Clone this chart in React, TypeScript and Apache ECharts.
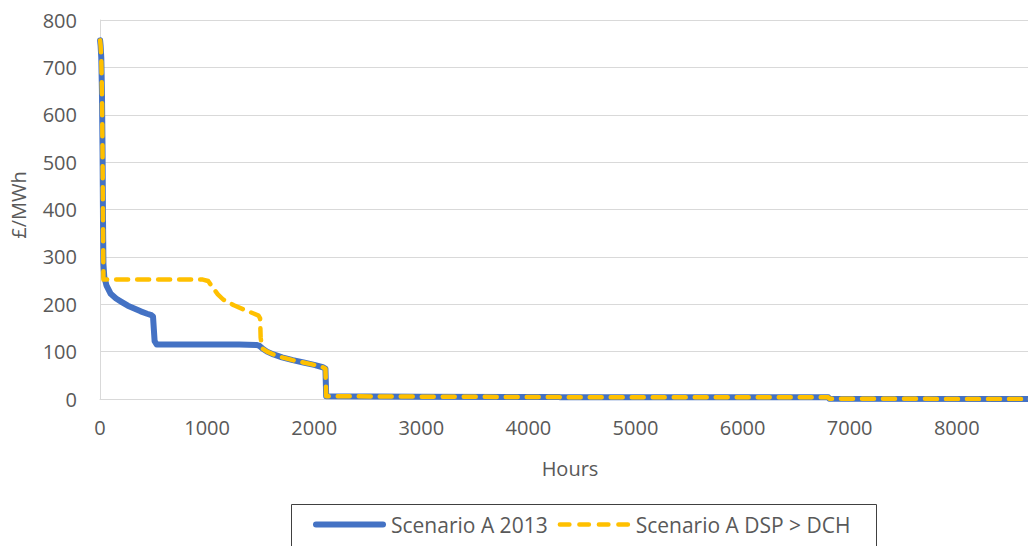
import React, { useEffect, useRef } from "react";
import * as echarts from "echarts";

// Price duration curves (hours sorted by price, £/MWh)
const hours2013 = [1, 6, 12, 18, 24, 28, 32, 40, 60, 100, 150, 200, 260, 320, 380, 440, 480, 495, 502, 510, 530, 700, 1000, 1300, 1460, 1490, 1520, 1560, 1620, 1700, 1800, 1900, 2000, 2080, 2105, 2112, 3000, 4290, 4300, 6800, 6810, 8760];
const price2013 = [757, 745, 720, 650, 520, 380, 285, 258, 240, 222, 212, 205, 197, 191, 185, 180, 177, 174, 150, 122, 115, 115, 115, 115, 114, 112, 106, 100, 94, 88, 82, 77, 72, 67, 64, 6, 5, 4, 3.5, 3.5, 0.5, 0];

const hoursDsp = [1, 6, 12, 18, 24, 28, 32, 960, 1010, 1050, 1100, 1150, 1250, 1350, 1440, 1480, 1495, 1500, 1510, 1520, 1560, 1620, 1700, 1800, 1900, 2000, 2080, 2105, 2112, 3000, 4290, 4300, 6800, 6810, 8760];
const priceDsp = [757, 745, 720, 650, 520, 380, 252, 252, 249, 236, 221, 210, 198, 188, 180, 176, 170, 130, 112, 106, 100, 94, 88, 82, 77, 72, 67, 64, 6, 5, 4, 3.5, 3.5, 0.5, 0];

const seriesNames = ["Scenario A 2013", "Scenario A DSP > DCH"];
const xTitle = "Hours";
const yTitle = "£/MWh";

const FONT = "'Open Sans', 'Noto Sans', sans-serif";
const LABEL = "#595959";
const GRID = "#d9d9d9";
const BLUE = "#4472C4";
const GOLD = "#FFC000";

// legend icons: solid rounded bar and four rounded dashes
const solidIcon = "path://M3,0H70A3,3 0 0 1 70,6H3A3,3 0 0 1 3,0Z";
const dash = (a: number, b: number) =>
  `M${a + 2.25},0.75H${b - 2.25}A2.25,2.25 0 0 1 ${b - 2.25},5.25H${a + 2.25}A2.25,2.25 0 0 1 ${a + 2.25},0.75Z`;
const dashedIcon =
  "path://M0,0M73,6" + dash(0, 14) + dash(19.5, 33.5) + dash(39, 53) + dash(58.5, 72.5);

const zip = (xs: number[], ys: number[]) => xs.map((x, i) => [x, ys[i]]);

export default function App() {
  const ref = useRef<HTMLDivElement>(null);

  useEffect(() => {
    if (!ref.current) return;
    const chart = echarts.init(ref.current, null, { renderer: "svg" });
    chart.setOption({
      animation: false,
      backgroundColor: "#ffffff",
      textStyle: { fontFamily: FONT },
      grid: { left: 100, right: 0, top: 20, bottom: 147, outerBoundsMode: "none" },
      xAxis: {
        type: "value",
        min: 0,
        max: 8665,
        interval: 1000,
        axisLine: { show: true, lineStyle: { color: GRID, width: 1 } },
        axisTick: { show: false },
        splitLine: { show: false },
        axisLabel: {
          color: LABEL,
          fontSize: 20,
          fontFamily: FONT,
          margin: 18,
          formatter: (v: number) => (v % 1000 === 0 ? String(v) : ""),
        },
      },
      yAxis: {
        type: "value",
        min: 0,
        max: 800,
        interval: 100,
        axisLine: { show: true, lineStyle: { color: GRID, width: 1 } },
        axisTick: { show: false },
        splitLine: { show: true, lineStyle: { color: GRID, width: 1 } },
        axisLabel: { color: LABEL, fontSize: 20, fontFamily: FONT, margin: 23 },
      },
      legend: {
        left: 313,
        top: 514,
        padding: 0,
        itemWidth: 73,
        itemHeight: 6,
        itemGap: 10,
        textStyle: { color: LABEL, fontSize: 21, fontFamily: FONT },
        data: [
          { name: seriesNames[0], icon: solidIcon, itemStyle: { color: BLUE } },
          { name: seriesNames[1], icon: dashedIcon, itemStyle: { color: GOLD } },
        ],
      },
      graphic: [
        {
          type: "rect",
          shape: { x: 291.5, y: 504.5, width: 585, height: 60 },
          style: { fill: "none", stroke: "#404040", lineWidth: 1 },
          silent: true,
        },
        {
          type: "text",
          x: 570,
          y: 468,
          style: {
            text: xTitle,
            fill: LABEL,
            font: `20px ${FONT}`,
            textAlign: "center",
            textVerticalAlign: "middle",
          },
        },
        {
          type: "text",
          x: 18,
          y: 205,
          rotation: Math.PI / 2,
          style: {
            text: yTitle,
            fill: LABEL,
            font: `20px ${FONT}`,
            textAlign: "center",
            textVerticalAlign: "middle",
          },
        },
      ],
      series: [
        {
          name: seriesNames[0],
          type: "line",
          symbol: "none",
          showSymbol: false,
          data: zip(hours2013, price2013),
          itemStyle: { color: BLUE },
          lineStyle: { color: BLUE, width: 6, join: "round", cap: "round" },
        },
        {
          name: seriesNames[1],
          type: "line",
          symbol: "none",
          showSymbol: false,
          data: zip(hoursDsp, priceDsp),
          itemStyle: { color: GOLD },
          lineStyle: { color: GOLD, width: 4.5, type: [12, 9], join: "round", cap: "round" },
        },
      ],
    });
    return () => chart.dispose();
  }, []);

  return (
    <div
      ref={ref}
      style={{ position: "fixed", left: 0, top: 0, width: 1028, height: 546, background: "#fff" }}
    />
  );
}
